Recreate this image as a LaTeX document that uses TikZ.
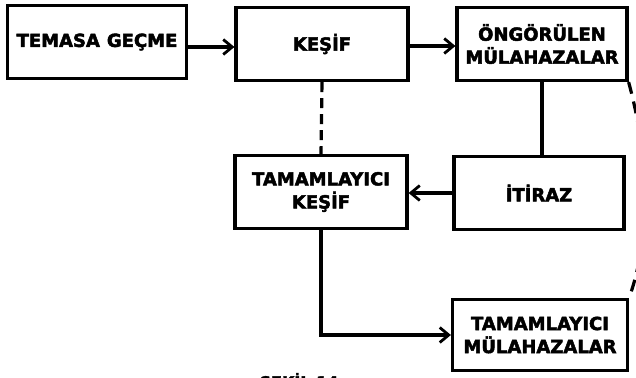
\documentclass[tikz,border=0pt]{standalone}
\usepackage{fontspec}
\setmainfont{DejaVu Sans}
\newfontfamily\heavyfont{DejaVu Sans Bold}[FakeBold=2.6]
\usetikzlibrary{arrows.meta}

\begin{document}
\begin{tikzpicture}[x=1pt,y=-1pt,
  box/.style={draw,line width=3.2pt,minimum width=172pt,minimum height=73pt,
    inner sep=0pt,align=center,font=\fontsize{18}{23}\heavyfont},
  arr/.style={line width=3.2pt,-{Straight Barb[length=9pt,width=15pt,line width=2.8pt]}}]
\useasboundingbox (0,0) rectangle (636,377);
\clip (0,0) rectangle (636,377);
\node[box,minimum width=179pt] (temasa) at (97,42) {TEMASA\hspace{7pt}GEÇME};
\node[box] (kesif) at (322,44) {KEŞİF};
\node[box,minimum width=170pt] (ongorulen) at (542,44) {ÖNGÖRÜLEN\\MÜLAHAZALAR};
\node[box] (tkesif) at (321,192) {TAMAMLAYICI\\KEŞİF};
\node[box,minimum width=170pt] (itiraz) at (539,193) {İTİRAZ};
\node[box,minimum width=175pt,minimum height=71pt] (tmul) at (540,335) {TAMAMLAYICI\\MÜLAHAZALAR};
\node[anchor=base,font=\fontsize{16}{16}\heavyfont] (sekil) at (299,388) {ŞEKİL 14};
\draw[arr] ([yshift=-5pt]temasa.east) -- ([yshift=-5pt]temasa.east -| kesif.west);
\draw[arr] ([yshift=-2pt]kesif.east) -- ([yshift=-2pt]kesif.east -| ongorulen.west);
\draw[line width=3.2pt,dash pattern=on 10pt off 6pt] (kesif.south) -- (tkesif.north);
\draw[line width=3.2pt] (ongorulen.south) -- (ongorulen.south |- itiraz.north);
\draw[arr] (itiraz.west) -- (itiraz.west -| tkesif.east);
\draw[arr] (tkesif.south) |- (tmul.west);
\draw[line width=3.2pt,dash pattern=on 12pt off 8pt] (ongorulen.south east) .. controls (650,160) and (650,240) .. (tmul.north east);
\end{tikzpicture}
\end{document}
